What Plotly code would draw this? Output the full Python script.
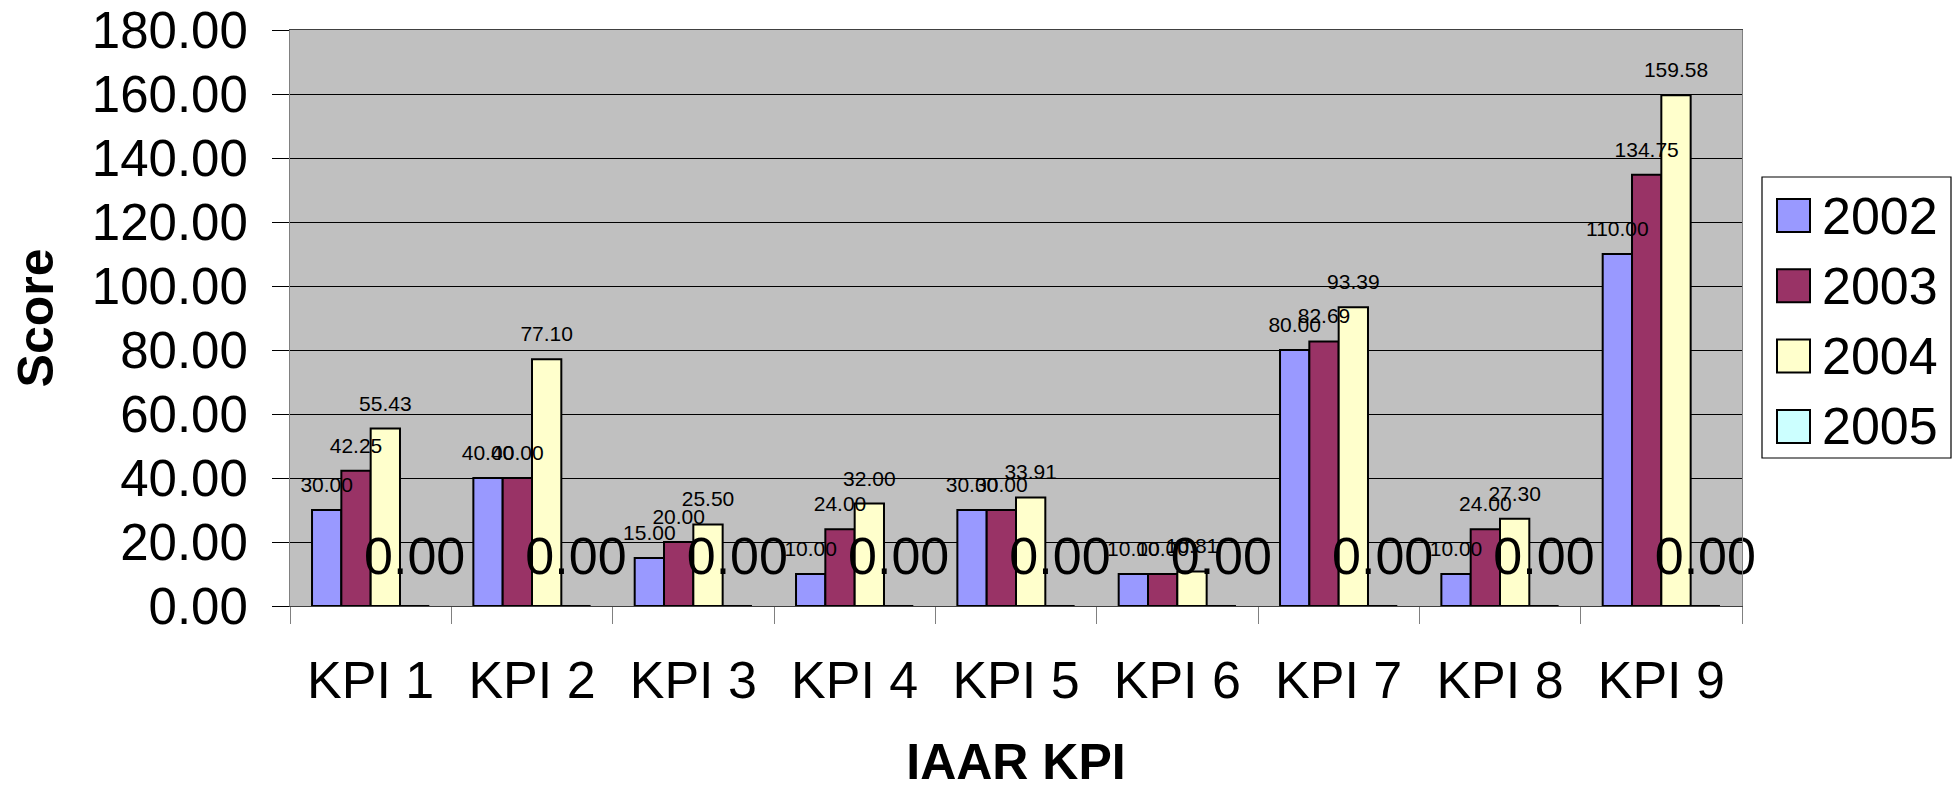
import plotly.graph_objects as go

categories = ["KPI 1", "KPI 2", "KPI 3", "KPI 4", "KPI 5", "KPI 6", "KPI 7", "KPI 8", "KPI 9"]
years = ["2002", "2003", "2004", "2005"]
s2002 = [30.00, 40.00, 15.00, 10.00, 30.00, 10.00, 80.00, 10.00, 110.00]
s2003 = [42.25, 40.00, 20.00, 24.00, 30.00, 10.00, 82.69, 24.00, 134.75]
s2004 = [55.43, 77.10, 25.50, 32.00, 33.91, 10.81, 93.39, 27.30, 159.58]
s2005 = [0.00, 0.00, 0.00, 0.00, 0.00, 0.00, 0.00, 0.00, 0.00]
y_ticks = [0, 20, 40, 60, 80, 100, 120, 140, 160, 180]

series = [s2002, s2003, s2004, s2005]
colors = ["#9999FF", "#993366", "#FFFFCC", "#CCFFFF"]
label_sizes = [21, 21, 21, 52]
label_base = [10, 10, 10, 19]

FONT = "Liberation Sans, Arial, sans-serif"

fig = go.Figure()
# bars
for k, (name, vals, col) in enumerate(zip(years, series, colors)):
    fig.add_trace(go.Bar(
        name=name, x=categories, y=vals, offsetgroup=str(k),
        marker=dict(color=col, line=dict(color="#000000", width=2)),
        showlegend=False,
    ))
# value labels, drawn above all bars
for k, (name, vals, ls, lb) in enumerate(zip(years, series, label_sizes, label_base)):
    fig.add_trace(go.Bar(
        name=name + " labels", x=categories, y=vals, offsetgroup=str(k),
        marker=dict(color="rgba(0,0,0,0)", line=dict(width=0)),
        text=[f"<span style='font-size:{ls}px'>{v:.2f}</span><br>&nbsp;" for v in vals],
        textposition="outside", constraintext="none", cliponaxis=False,
        textfont=dict(family=FONT, size=lb, color="#000000"),
        hoverinfo="skip", showlegend=False,
    ))

# plot area in pixels: x 290..1742, y 30..606
L, R, T, B = 290, 1742, 30, 606
W, H = R - L, B - T
FW, FH = 1955, 790
px = lambda v: (v - L) / W
py = lambda v: (B - v) / H

shapes = [dict(type="rect", xref="paper", yref="paper",
               x0=px(1762), x1=px(1951), y0=py(458), y1=py(177),
               line=dict(color="#000000", width=1.2), fillcolor="#FFFFFF", layer="above")]
annotations = []
for i, (name, col) in enumerate(zip(years, colors)):
    cy = 215.5 + 70.3 * i
    shapes.append(dict(type="rect", xref="paper", yref="paper",
                       x0=px(1777), x1=px(1810), y0=py(cy + 16.5), y1=py(cy - 16.5),
                       line=dict(color="#000000", width=2), fillcolor=col, layer="above"))
    annotations.append(dict(xref="paper", yref="paper", x=px(1820), y=py(cy),
                            text=name, showarrow=False, xanchor="left", yanchor="middle",
                            font=dict(family=FONT, size=52, color="#000000")))

fig.update_layout(
    width=FW, height=FH,
    margin=dict(l=L, r=FW - R, t=T, b=FH - B, autoexpand=False),
    paper_bgcolor="#FFFFFF", plot_bgcolor="#C0C0C0",
    barmode="group", bargap=0.273, bargroupgap=0,
    font=dict(family=FONT, color="#000000"),
    shapes=shapes, annotations=annotations,
    xaxis=dict(type="category", tickson="boundaries", ticks="outside", ticklen=17,
               tickcolor="#808080", tickwidth=1, showline=True, linecolor="#404040",
               linewidth=1, mirror=True, showgrid=False, tickfont=dict(size=52),
               ticklabelstandoff=29,
               title=dict(text="<b>IAAR KPI</b>", font=dict(size=50), standoff=42)),
    yaxis=dict(range=[0, 180], tickvals=y_ticks, ticktext=[f"{v:.2f}" for v in y_ticks],
               ticks="outside", ticklen=17, tickcolor="#000000", tickwidth=1,
               showline=True, linecolor="#808080", linewidth=1, mirror=True,
               showgrid=True, gridcolor="#000000", gridwidth=1, zeroline=False,
               tickfont=dict(size=51), ticklabelstandoff=14, ticklabeloverflow="allow",
               title=dict(text="<b>Score</b>", font=dict(size=50), standoff=22)),
)

fig.write_html(
    "out.html",
    config={"displayModeBar": False},
    post_script=("document.body.style.margin='0';"
                 "document.body.style.overflow='hidden';"
                 "document.documentElement.style.overflow='hidden';"),
)
